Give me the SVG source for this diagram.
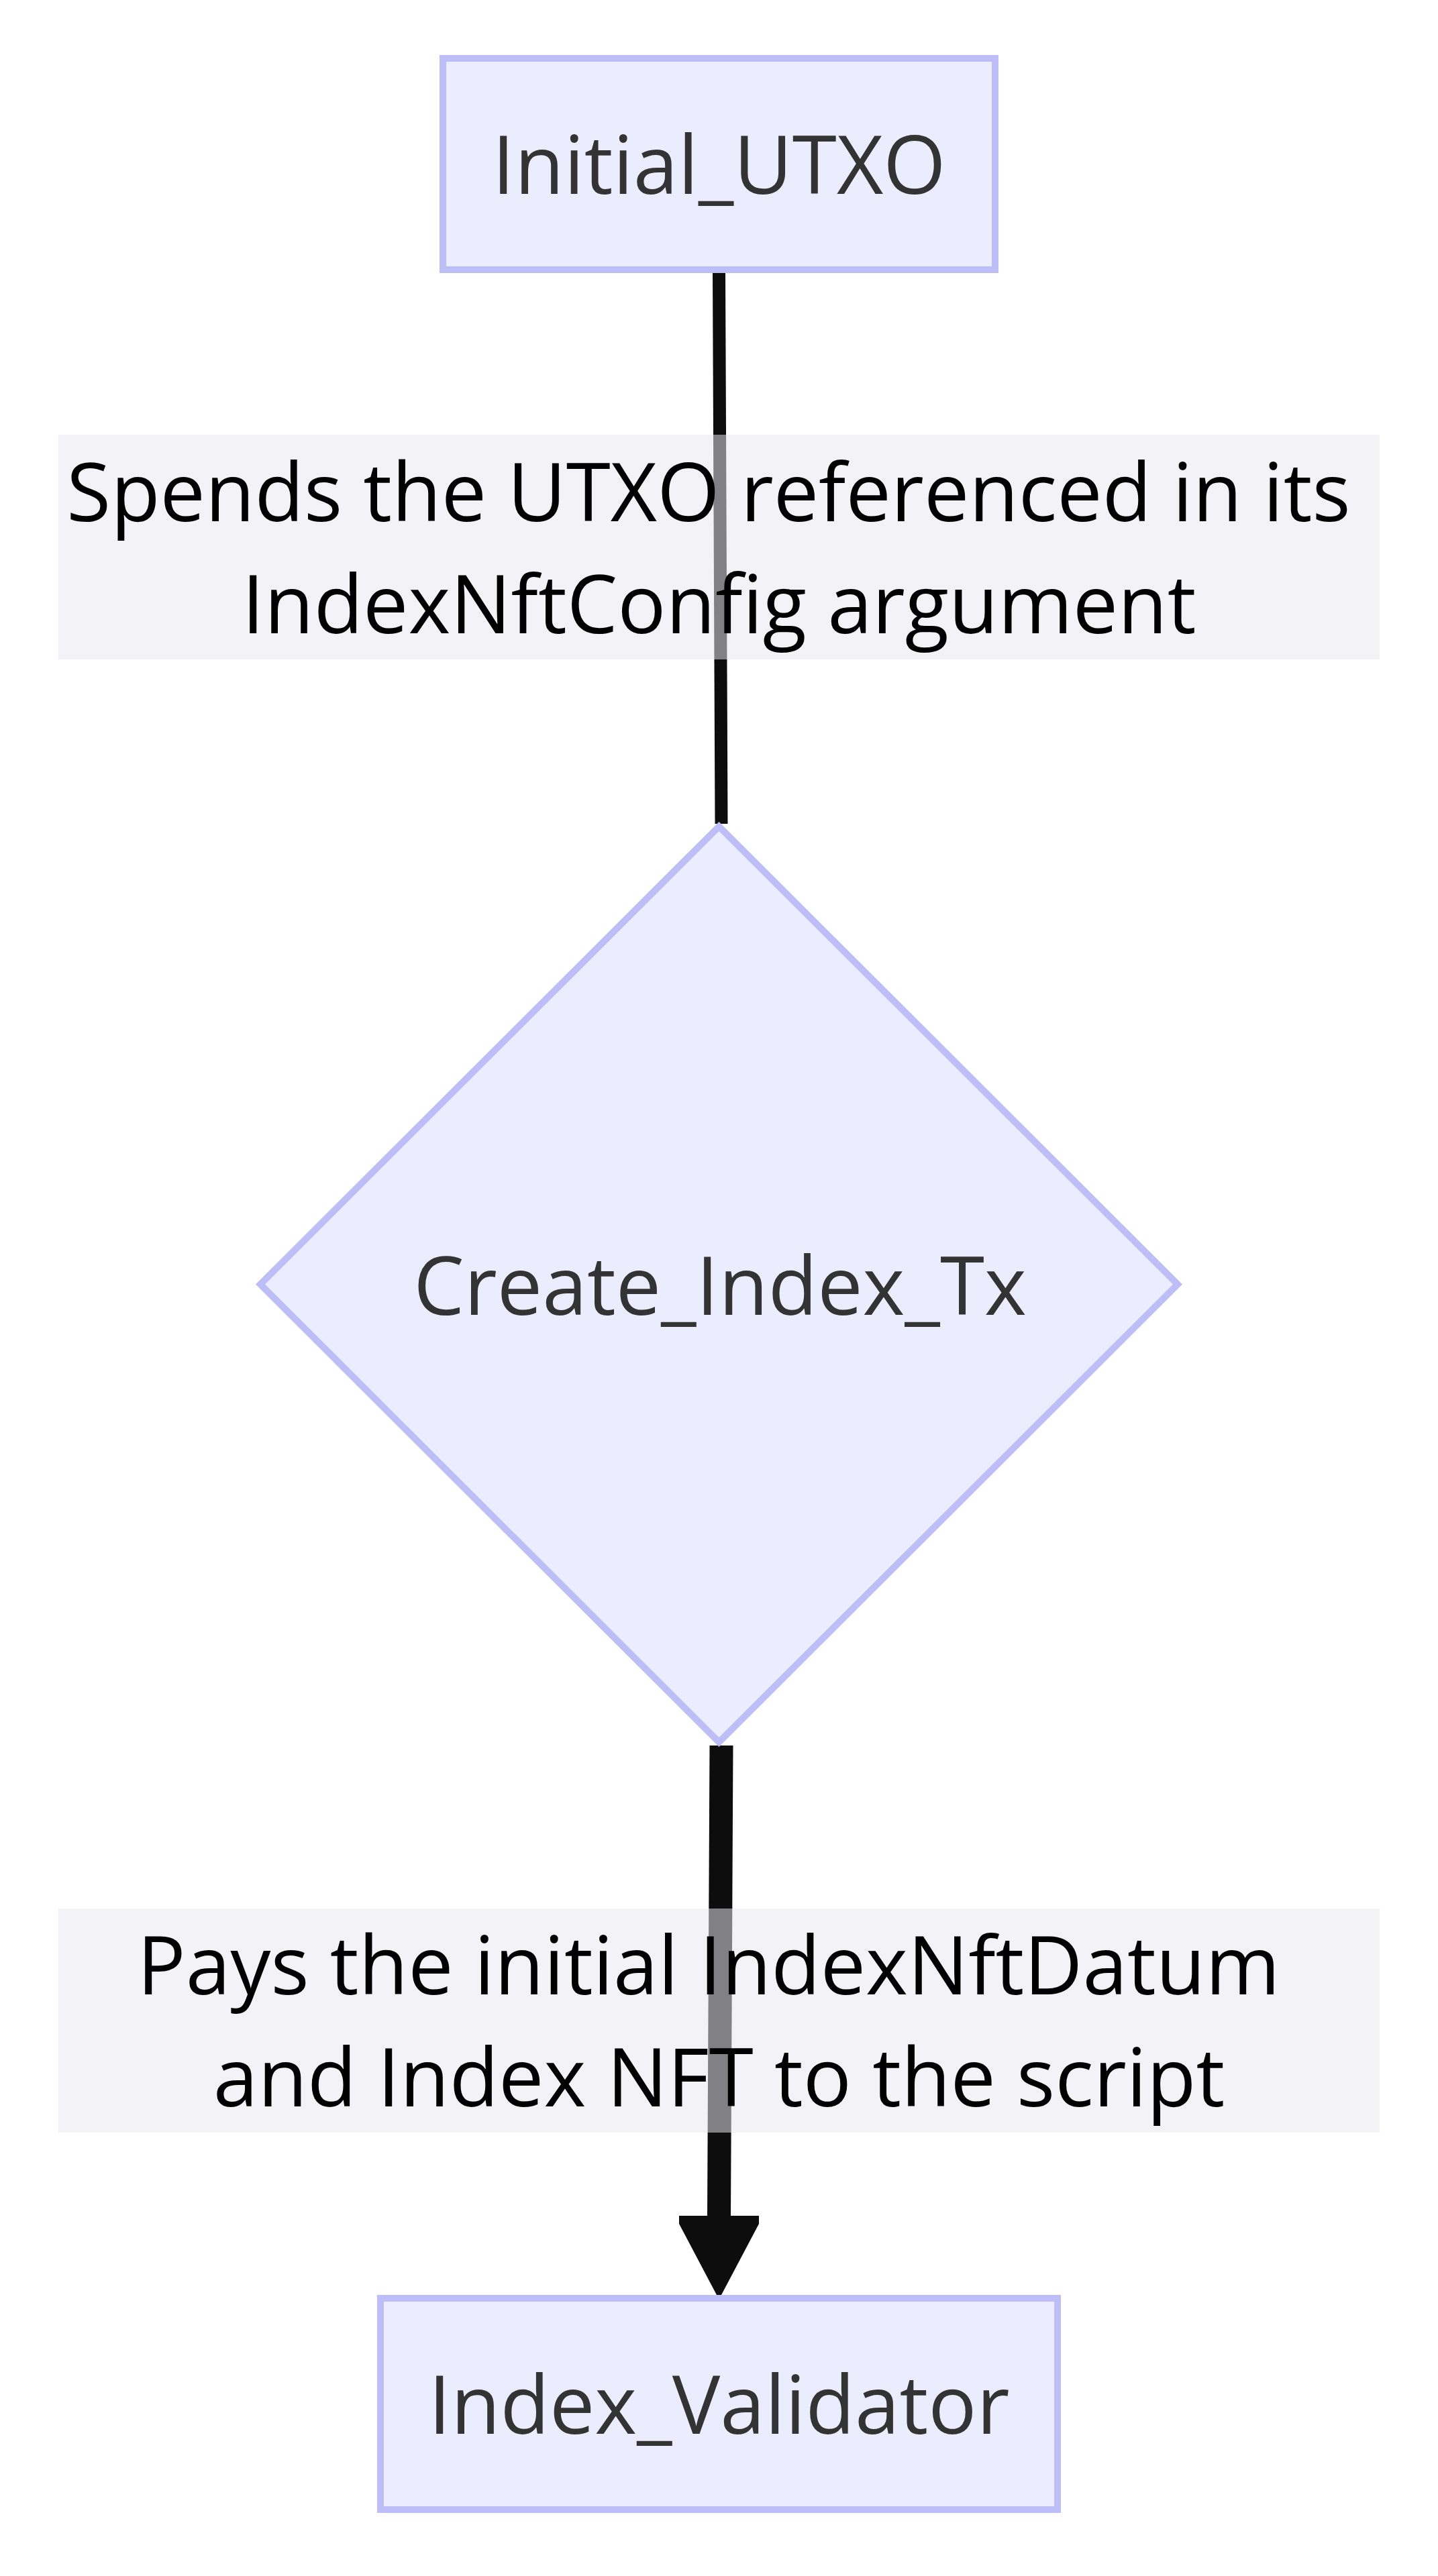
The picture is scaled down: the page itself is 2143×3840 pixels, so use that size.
<svg xmlns="http://www.w3.org/2000/svg" width="2143" height="3840" viewBox="0 0 2143 3840">
<style>
.node{fill:#ECECFF;stroke:#BDBDF7;stroke-width:10}
.ntext{font-family:"Open Sans","Noto Sans",sans-serif;font-size:120px;fill:#333333;text-anchor:middle}
.edge{stroke:#0d0d0d;fill:none;stroke-linecap:butt}
.lbg{fill:#e8e8f0;fill-opacity:0.53}
.ltext{font-family:"Open Sans","Noto Sans",sans-serif;font-size:120px;fill:#000000;text-anchor:middle}
</style>
<rect width="2143" height="3840" fill="#ffffff"/>
<g id="connectors">
  <path class="edge" d="M1071.5,407 L1075,1228" stroke-width="19"/>
  <path class="edge" d="M1075,2602 L1071.5,3306" stroke-width="35"/>
  <polygon fill="#0d0d0d" points="1012,3303 1131,3303 1131,3315 1075,3421 1068,3421 1012,3315"/>
</g>
<g id="edge-label-1">
  <rect class="lbg" x="87" y="648" width="1969" height="335"/>
  <text class="ltext" x="1056" y="777">Spends the UTXO referenced in its</text>
  <text class="ltext" x="1071.5" y="944">IndexNftConfig argument</text>
</g>
<g id="edge-label-2">
  <rect class="lbg" x="87" y="2845" width="1969" height="334"/>
  <text class="ltext" x="1056" y="2973">Pays the initial IndexNftDatum</text>
  <text class="ltext" x="1071.5" y="3140">and Index NFT to the script</text>
</g>
<g id="Initial_UTXO">
  <rect class="node" x="660" y="87" width="823" height="315"/>
  <text class="ntext" x="1071.5" y="289">Initial_UTXO</text>
</g>
<g id="Create_Index_Tx">
  <polygon class="node" points="1071.5,1232 1755,1914.5 1071.5,2597 388,1914.5"/>
  <text class="ntext" x="1073" y="1960">Create_Index_Tx</text>
</g>
<g id="Index_Validator">
  <rect class="node" x="567" y="3426" width="1009" height="315"/>
  <text class="ntext" x="1071.5" y="3628">Index_Validator</text>
</g>
</svg>
